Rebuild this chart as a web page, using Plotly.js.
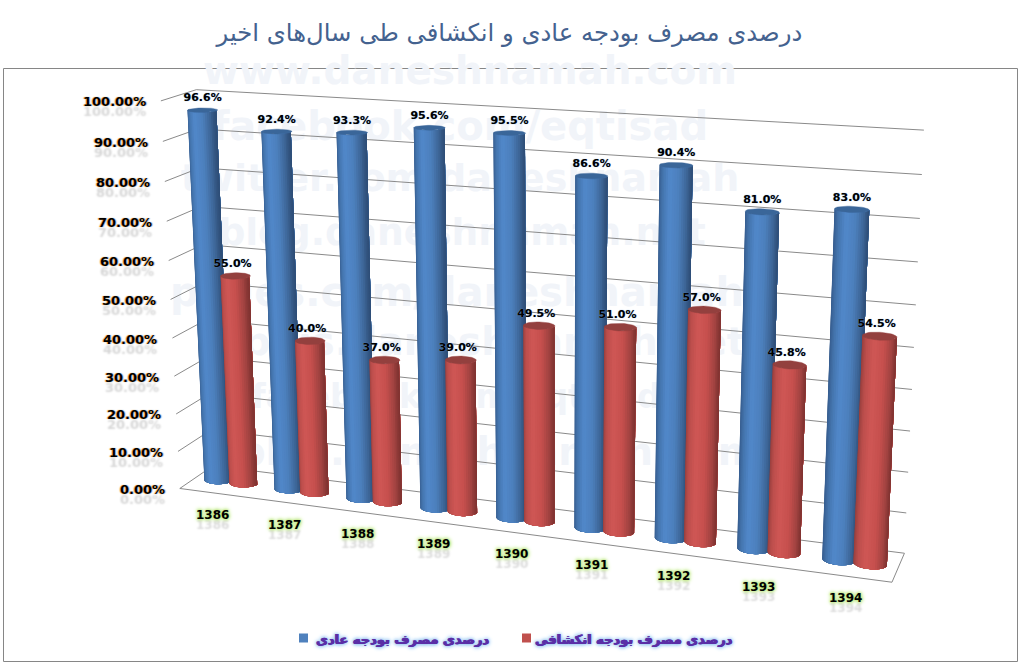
<!DOCTYPE html>
<html><head><meta charset="utf-8">
<script src="https://cdn.plot.ly/plotly-3.0.1.min.js"></script>
<style>html,body{margin:0;padding:0;background:#fff}#c{width:1025px;height:667px}</style></head>
<body><div id="c"></div>
<script>
const years = ['1386','1387','1388','1389','1390','1391','1392','1393','1394'];
const ordinary = [96.6,92.4,93.3,95.6,95.5,86.6,90.4,81.0,83.0];
const development = [55.0,40.0,37.0,39.0,49.5,51.0,57.0,45.8,54.5];
const yTicks = [0,10,20,30,40,50,60,70,80,90,100];
const chartTitle = 'درصدی مصرف بودجه عادی و انکشافی طی سال‌های اخیر';
const seriesNames = ['درصدی مصرف بودجه عادی','درصدی مصرف بودجه انکشافی'];
const watermark = ['www.daneshnamah.com','facebook.com/eqtisad','twitter.com/daneshnamah','blog.daneshnamah.net',
  'pages.com/daneshnamah','plus.daneshnamah.net','facebook.com/eqtisad','plus.daneshnamah.com'];

// Camera of the 3-D chart box: world (slot, depth, percent) seen on the page, fitted by least squares.
const boxView = [
 [0,0,0,180,488],[9,0,0,891,582],[9,1,0,906,553],[0,1,0,210,466],
 [0,0,100,159,99],[0,1,100,198,89],[9,1,100,921,128]];
const blueX=0.32, redX=0.68, midDepth=0.5, radX=0.19, radY=0.18;
const barView = [ // [world-slot,percent,page x,page y]
 [blueX,0,219,479],[1+blueX,0,288,488],[2+blueX,0,360,498],[3+blueX,0,435,508],[4+blueX,0,511,517],
 [5+blueX,0,589,527],[6+blueX,0,670,538],[7+blueX,0,752,548],[8+blueX,0,839,560],
 [blueX,96.6,203,111],[1+blueX,92.4,277,132],[2+blueX,93.3,352,132],[3+blueX,95.6,429,128],[4+blueX,95.5,509,133],
 [5+blueX,86.6,591,177],[6+blueX,90.4,677,165],[7+blueX,81,763,211],[8+blueX,83,853,209],
 [redX,0,245,483],[1+redX,0,316,492],[2+redX,0,388,501],[3+redX,0,463,511],[4+redX,0,540,521],
 [5+redX,0,620,532],[6+redX,0,702,542],[7+redX,0,784,553],[8+redX,0,870,564],
 [redX,55,237,277],[1+redX,40,311,342],[2+redX,37,385,362],[3+redX,39,461,360],[4+redX,49.5,539,327],
 [5+redX,51,620,328],[6+redX,57,705,311],[7+redX,45.8,790,365],[8+redX,54.5,880,337]];
function fit(){
  const pts = boxView.concat(barView.map(b=>[b[0],midDepth,b[1],b[2],b[3]]));
  const n=11, A=[...Array(n)].map(()=>Array(n+1).fill(0));
  const add=(r,t)=>{for(let i=0;i<n;i++){for(let j=0;j<n;j++)A[i][j]+=r[i]*r[j];A[i][n]+=r[i]*t;}};
  pts.forEach(p=>{const X=p[0]/9,Y=p[1],Z=p[2]/100,u=p[3]/1000,v=p[4]/1000;
    add([X,Y,Z,1,0,0,0,0,-u*X,-u*Y,-u*Z],u);
    add([0,0,0,0,X,Y,Z,1,-v*X,-v*Y,-v*Z],v);});
  for(let i=0;i<n;i++){let m=i;for(let k=i;k<n;k++)if(Math.abs(A[k][i])>Math.abs(A[m][i]))m=k;
    [A[i],A[m]]=[A[m],A[i]];
    for(let k=0;k<n;k++)if(k!==i){const f=A[k][i]/A[i][i];for(let j=i;j<=n;j++)A[k][j]-=f*A[i][j];}}
  return A.map((r,i)=>r[n]/r[i]);
}
const P=fit();
function proj(s,d,z){const X=s/9,Y=d,Z=z/100,w=P[8]*X+P[9]*Y+P[10]*Z+1;
  return [1000*(P[0]*X+P[1]*Y+P[2]*Z+P[3])/w,1000*(P[4]*X+P[5]*Y+P[6]*Z+P[7])/w];}

const traces=[];
const base={type:'scatter',hoverinfo:'skip',showlegend:false,cliponaxis:false};
// watermark
const wmY=[74,130,181,236,296,345,400,455], wmX=[470,460,460,462,457,494,456,498], wmSize=[39,40,38,37.5,40,39,33,39];
traces.push({...base,mode:'text',x:wmX,y:wmY,text:watermark,textposition:'middle center',
  textfont:{family:'DejaVu Sans',size:wmSize,weight:'bold',color:'#f1f4f9'}});
// walls
const gx=[],gy=[];
const seg=(a,b)=>{gx.push(a[0],b[0],null);gy.push(a[1],b[1],null);};
yTicks.forEach(t=>{seg(proj(0,0,t),proj(0,1,t));seg(proj(0,1,t),proj(9,1,t));});
seg(proj(0,0,0),proj(9,0,0));seg(proj(9,0,0),proj(9,1,0));
traces.push({...base,mode:'lines',x:gx,y:gy,line:{color:'#8a8a8a',width:1}});
// cylinders
const hex=c=>[1,3,5].map(i=>parseInt(c.substr(i,2),16));
function shade(stops,f){for(let i=1;i<stops.length;i++)if(f<=stops[i][0]){
  const t=(f-stops[i-1][0])/(stops[i][0]-stops[i-1][0]),a=hex(stops[i-1][1]),b=hex(stops[i][1]);
  return 'rgb('+a.map((v,k)=>Math.round(v+(b[k]-v)*t)).join(',')+')';}
  return stops[stops.length-1][1];}
const blueStops=[[0,'#34598a'],[.18,'#4474ad'],[.42,'#5188ca'],[.7,'#4c7fbc'],[.9,'#3d6596'],[1,'#2e4e78']];
const redStops=[[0,'#943e3c'],[.18,'#bc4e4c'],[.42,'#cf5755'],[.7,'#c64f4d'],[.9,'#a24341'],[1,'#803331']];
const N=22;
function cylinder(cx,val,stops,cap){
  const pt=(k,z)=>{const th=Math.PI*k/N;return proj(cx-radX*Math.cos(th),midDepth-radY*Math.sin(th),z);};
  // each strip reaches to the silhouette; the next one paints over it, so no seams show
  for(let k=0;k<N;k++){
    const xs=[],ys=[];
    for(let j=k;j<=N;j++){const p=pt(j,0);xs.push(p[0]);ys.push(p[1]);}
    for(let j=N;j>=k;j--){const p=pt(j,val);xs.push(p[0]);ys.push(p[1]);}
    xs.push(xs[0]);ys.push(ys[0]);
    const col=shade(stops,(1-Math.cos(Math.PI*(k+.5)/N))/2);
    traces.push({...base,mode:'lines',fill:'toself',fillcolor:col,line:{width:0,color:col},x:xs,y:ys});
  }
  const ex=[],ey=[];
  for(let k=0;k<=2*N;k++){const th=Math.PI*k/N,p=proj(cx-radX*Math.cos(th),midDepth-radY*Math.sin(th),val);ex.push(p[0]);ey.push(p[1]);}
  traces.push({...base,mode:'lines',fill:'toself',fillcolor:cap,line:{color:cap,width:.4},x:ex,y:ey});
}
years.forEach((_,i)=>{
  cylinder(i+blueX,ordinary[i],blueStops,'#3a6699');
  cylinder(i+redX,development[i],redStops,'#93403e');
});
// data labels
const labelFont={family:'DejaVu Sans',size:11,weight:'bold',color:'#000',shadow:'0 0 1px #6f9fd8'};
[[ordinary,blueX,0],[development,redX,3]].forEach(([vals,off,dx])=>{
  const pts=vals.map((v,i)=>proj(i+off,midDepth,v));
  traces.push({...base,mode:'text',x:pts.map(p=>p[0]-dx),y:pts.map(p=>p[1]-6),
    text:vals.map(v=>v.toFixed(1)+'%'),textposition:'top center',textfont:labelFont});
});
// legend keys
const legendKeyX=[303.5,526.5], legendTextX=[491,735], legendY=639;
[['#4f81bd',0],['#c0504d',1]].forEach(([c,i])=>traces.push({...base,mode:'markers',x:[legendKeyX[i]],y:[legendY-1],
  name:seriesNames[i],marker:{symbol:'square',size:9,color:c}}));

const annotations=[];
yTicks.forEach(t=>{const p=proj(0,0,t);annotations.push({xref:'x',yref:'y',x:p[0]-13,y:p[1]+1,xanchor:'right',yanchor:'middle',
  showarrow:false,text:t.toFixed(2)+'%',font:{family:'DejaVu Sans',size:13,weight:'bold',color:'#000',
  shadow:'-1px 0 1px #f5a623, 1px 0 1px #7fb2ee, 0 10px 2px rgba(0,0,0,.16)'}});});
years.forEach((y,i)=>{const p=proj(i+.5,0,0);annotations.push({xref:'x',yref:'y',x:p[0]-2,y:p[1]+22,xanchor:'center',yanchor:'middle',
  showarrow:false,text:y,font:{family:'DejaVu Sans',size:12,weight:'bold',color:'#000',
  shadow:'0 0 2px #bfe884, 0 0 3px #bfe884, 0 0 4px #bfe884, 0 0 5px #bfe884, 0 10px 2px rgba(0,0,0,.14)'}});});
seriesNames.forEach((name,i)=>annotations.push({xref:'x',yref:'y',x:legendTextX[i],y:legendY,xanchor:'right',yanchor:'middle',
  showarrow:false,text:name,font:{family:'DejaVu Sans',size:13,weight:'bold',color:'#5a2ea6',
  shadow:'0.6px 0 0 #5a2ea6, -0.6px 0 0 #5a2ea6, 0 0 3px #8fc0f0, 0 0 4px #8fc0f0, 0 0 5px #8fc0f0'}}));

const layout={width:1025,height:667,margin:{l:0,r:0,t:0,b:0},paper_bgcolor:'#fff',plot_bgcolor:'rgba(0,0,0,0)',
  title:{text:chartTitle,x:.497,xanchor:'center',y:.952,yanchor:'middle',font:{family:'DejaVu Sans',size:24.3,color:'#44628f'}},
  xaxis:{range:[0,1025],visible:false,fixedrange:true},
  yaxis:{range:[667,0],visible:false,fixedrange:true},
  shapes:[{type:'rect',xref:'x',yref:'y',x0:3.5,x1:1017.5,y0:68.5,y1:661.5,line:{color:'#868686',width:1},layer:'below'}],
  annotations,showlegend:false
};
Plotly.newPlot('c',traces,layout,{displayModeBar:false,staticPlot:true});
</script></body></html>
